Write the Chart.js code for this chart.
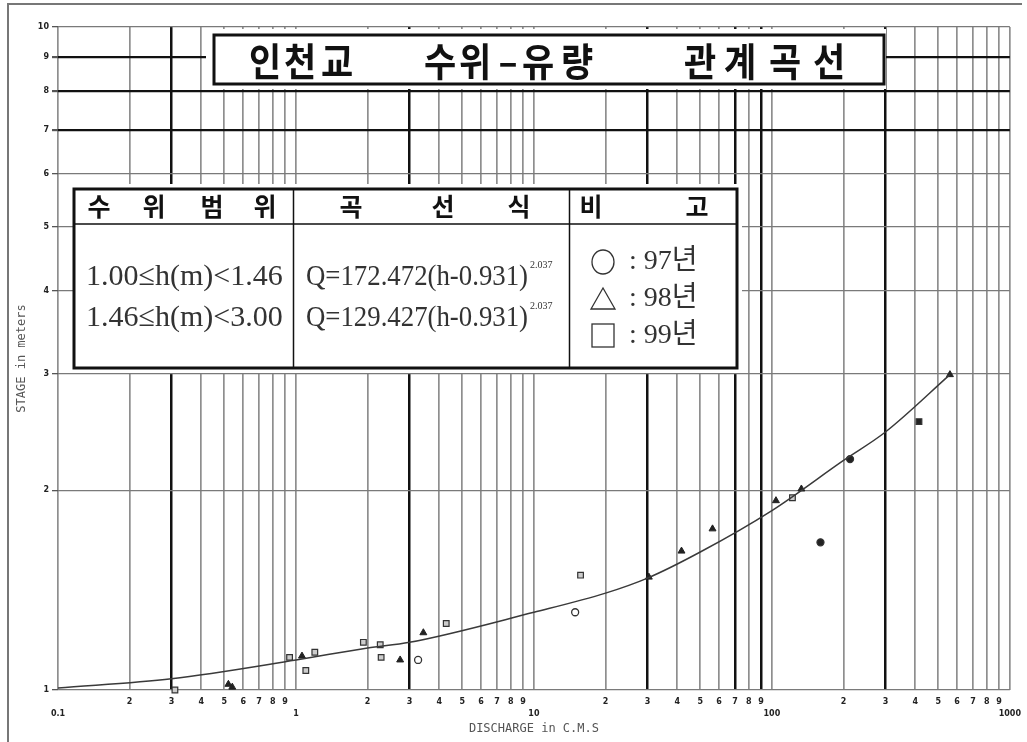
<!DOCTYPE html>
<html>
<head>
<meta charset="utf-8">
<script src="https://cdn.jsdelivr.net/npm/chart.js@4.4.1/dist/chart.umd.min.js"></script>
<style>
  body { margin: 0; background: #fff; }
  canvas { display: block; }
</style>
</head>
<body>
<canvas id="rating" width="1027" height="742"></canvas>
<script>
// rating curve (discharge Q in CMS vs stage h in m)
const curveQ = [0.1, 0.3, 1, 2, 3, 10, 20, 30, 50, 100, 200, 300, 560];
const curveH = [1.007, 1.04, 1.11, 1.157, 1.18, 1.31, 1.40, 1.475, 1.615, 1.865, 2.22, 2.45, 2.99];

// measurements, 97년
const q97 = [3.26, 14.9, 160, 213];
const h97 = [1.11, 1.31, 1.67, 2.23];
// 98년
const q98 = [0.52, 0.54, 1.06, 2.74, 3.43, 30.4, 41.7, 56.3, 104, 133, 560];
const h98 = [1.02, 1.01, 1.125, 1.11, 1.22, 1.48, 1.62, 1.75, 1.93, 2.01, 2.99];
// 99년
const q99 = [0.31, 0.94, 1.1, 1.2, 1.92, 2.26, 2.28, 4.28, 15.7, 122, 415];
const h99 = [1.0, 1.12, 1.07, 1.14, 1.18, 1.17, 1.12, 1.26, 1.49, 1.95, 2.54];

// axis ticks
const decades = [0.1, 1, 10, 100, 1000];
const minorDigits = [2, 3, 4, 5, 6, 7, 8, 9];
const stageTicks = [1, 2, 3, 4, 5, 6, 7, 8, 9, 10];
const heavyQ = [0.3, 3, 30, 70, 90, 300];
const heavyH = [7, 8, 9];

const xTickValues = [];
decades.forEach((d, i) => {
  xTickValues.push(d);
  if (i < decades.length - 1) minorDigits.forEach(m => xTickValues.push(+(d * m).toPrecision(3)));
});

const near = (v, list) => list.some(h => Math.abs(v - h) / h < 1e-6);
const pts = (xs, ys) => xs.map((x, i) => ({ x: x, y: ys[i] }));

// title, table and frame around the plot
const sheetPlugin = {
  id: 'sheet',
  beforeDatasetsDraw(chart) {
    const ctx = chart.ctx;
    ctx.save();

    // title panel
    ctx.fillStyle = '#fff';
    ctx.fillRect(206, 29, 680, 60);
    ctx.lineWidth = 3;
    ctx.strokeStyle = '#111';
    ctx.strokeRect(214, 35, 670, 49);
    const titleChars = ['인', '천', '교', '수', '위', '–', '유', '량', '관', '계', '곡', '선'];
    const titleX = [265, 300, 337, 440, 475, 508, 538, 577, 700, 740, 785, 829];
    ctx.fillStyle = '#111';
    ctx.font = "bold 35px 'Noto Sans CJK KR'";
    ctx.textAlign = 'center';
    ctx.textBaseline = 'middle';
    ctx.save();
    ctx.translate(0, 61);
    ctx.scale(1, 1.12);
    titleChars.forEach((c, i) => ctx.fillText(c, titleX[i], 0));
    ctx.restore();

    // table
    ctx.fillStyle = '#fff';
    ctx.fillRect(74, 184, 668, 189);
    ctx.strokeStyle = '#111';
    ctx.lineWidth = 3;
    ctx.strokeRect(74, 189, 663, 179);
    ctx.lineWidth = 1.5;
    ctx.beginPath();
    ctx.moveTo(74, 224); ctx.lineTo(737, 224);
    ctx.moveTo(293.5, 189); ctx.lineTo(293.5, 368);
    ctx.moveTo(569.5, 189); ctx.lineTo(569.5, 368);
    ctx.stroke();

    ctx.fillStyle = '#111';
    ctx.font = "bold 25px 'Noto Sans CJK KR'";
    const headChars = ['수', '위', '범', '위', '곡', '선', '식', '비', '고'];
    const headX = [99, 154, 212, 265, 351, 443, 519, 591, 697];
    headChars.forEach((c, i) => ctx.fillText(c, headX[i], 206));

    ctx.fillStyle = '#333';
    ctx.textAlign = 'left';
    ctx.font = "30px 'Liberation Serif'";
    ctx.fillText('1.00≤h(m)<1.46', 86, 277, 202);
    ctx.fillText('1.46≤h(m)<3.00', 86, 318, 202);
    ctx.fillText('Q=172.472(h-0.931)', 306, 277, 222);
    ctx.fillText('Q=129.427(h-0.931)', 306, 318, 222);
    ctx.font = "10px 'Liberation Serif'";
    ctx.fillText('2.037', 530, 265);
    ctx.fillText('2.037', 530, 306);

    // legend symbols
    ctx.strokeStyle = '#333';
    ctx.lineWidth = 1.3;
    ctx.beginPath();
    ctx.ellipse(603, 262, 11, 12, 0, 0, Math.PI * 2);
    ctx.stroke();
    ctx.beginPath();
    ctx.moveTo(603, 288); ctx.lineTo(615, 309); ctx.lineTo(591, 309); ctx.closePath();
    ctx.stroke();
    ctx.strokeRect(592, 324, 22, 23);
    ctx.font = "28px 'Liberation Serif', 'Noto Sans CJK KR'";
    ctx.fillText(': 97년', 629, 262);
    ctx.fillText(': 98년', 629, 299);
    ctx.fillText(': 99년', 629, 336);
    ctx.restore();
  },
  afterDraw(chart) {
    const ctx = chart.ctx;
    ctx.save();
    ctx.strokeStyle = '#777';
    ctx.lineWidth = 2;
    ctx.beginPath();
    ctx.moveTo(8, 742); ctx.lineTo(8, 4); ctx.lineTo(1022, 4);
    ctx.stroke();
    ctx.restore();
  }
};

new Chart(document.getElementById('rating'), {
  type: 'scatter',
  data: {
    datasets: [
      {
        label: '관계곡선',
        data: pts(curveQ, curveH),
        showLine: true,
        cubicInterpolationMode: 'monotone',
        borderColor: '#3a3a3a',
        borderWidth: 1.5,
        pointRadius: 0
      },
      {
        label: '97년',
        data: pts(q97, h97),
        pointStyle: 'circle',
        pointRadius: 3.5,
        borderWidth: 1.3,
        borderColor: '#333',
        backgroundColor: ['#fff', '#fff', '#222', '#222'],
        clip: false
      },
      {
        label: '98년',
        data: pts(q98, h98),
        pointStyle: 'triangle',
        pointRadius: 4,
        borderWidth: 1,
        borderColor: '#222',
        backgroundColor: '#222',
        clip: false
      },
      {
        label: '99년',
        data: pts(q99, h99),
        pointStyle: 'rect',
        pointRadius: 4,
        borderWidth: 1.2,
        borderColor: '#333',
        backgroundColor: ['#ccc', '#ccc', '#ccc', '#ccc', '#ccc', '#ccc', '#ccc', '#ccc', '#ccc', '#ccc', '#222'],
        clip: false
      }
    ]
  },
  options: {
    responsive: false,
    animation: false,
    layout: { padding: { left: 0, right: 15, top: 27, bottom: 6 } },
    plugins: {
      legend: { display: false },
      tooltip: { enabled: false }
    },
    scales: {
      x: {
        type: 'logarithmic',
        min: 0.1,
        max: 1000,
        afterBuildTicks: scale => { scale.ticks = xTickValues.map(v => ({ value: v })); },
        afterFit: scale => { scale.height = 46; },
        border: { display: false },
        grid: {
          drawTicks: false,
          color: c => near(c.tick.value, heavyQ) ? '#111' : '#8e8e8e',
          lineWidth: c => near(c.tick.value, heavyQ) ? 2.5 : 1.7
        },
        ticks: {
          autoSkip: false,
          maxRotation: 0,
          minRotation: 0,
          padding: 6,
          color: '#222',
          font: { family: 'DejaVu Sans', size: 8, weight: 'bold', lineHeight: 1.5 },
          callback: v => {
            const major = decades.find(d => Math.abs(v - d) / d < 1e-6);
            if (major !== undefined) return ['', String(major)];
            const exp = Math.floor(Math.log10(v) + 1e-9);
            return String(Math.round(v / Math.pow(10, exp)));
          }
        },
        title: {
          display: true,
          text: 'DISCHARGE in C.M.S',
          color: '#555',
          font: { family: 'DejaVu Sans Mono', size: 12 },
          padding: { top: 0, bottom: 0 }
        }
      },
      y: {
        type: 'logarithmic',
        min: 1,
        max: 10,
        afterBuildTicks: scale => { scale.ticks = stageTicks.map(v => ({ value: v })); },
        afterFit: scale => { scale.width = 58; },
        border: { display: false },
        grid: {
          tickLength: 6,
          tickColor: '#555',
          color: c => near(c.tick.value, heavyH) ? '#111' : '#7a7a7a',
          lineWidth: c => near(c.tick.value, heavyH) ? 2.2 : 1.3
        },
        ticks: {
          padding: 3,
          color: '#222',
          font: { family: 'DejaVu Sans', size: 8, weight: 'bold' },
          callback: v => String(v)
        },
        title: {
          display: true,
          text: 'STAGE in meters',
          color: '#555',
          font: { family: 'DejaVu Sans Mono', size: 12 },
          padding: { top: 15, bottom: 0 }
        }
      }
    }
  },
  plugins: [sheetPlugin]
});
</script>
</body>
</html>
